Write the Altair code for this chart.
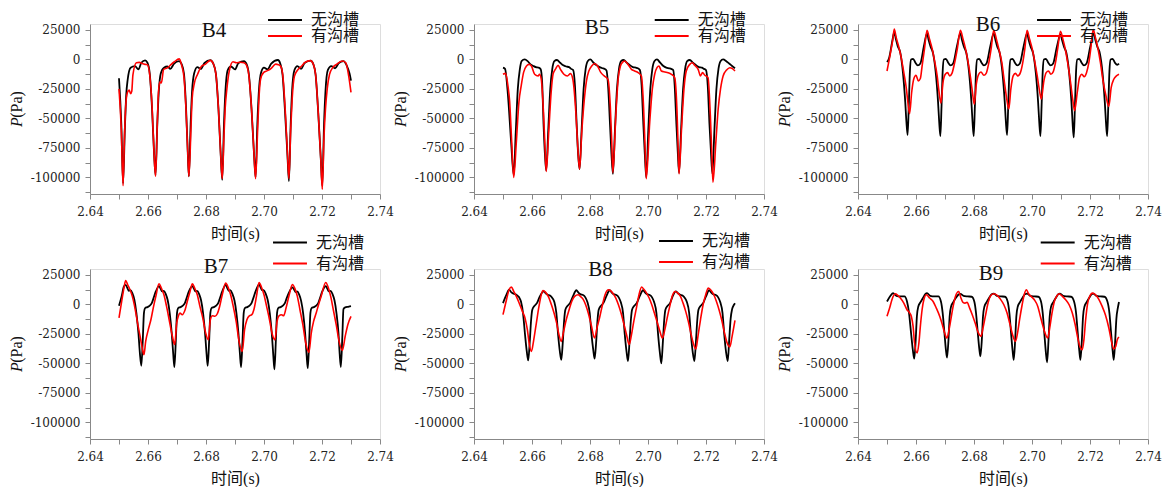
import altair as alt
import pandas as pd

SERIES = ["无沟槽", "有沟槽"]
COLORS = ["#000000", "#ff0000"]
X_TICKS = [2.64, 2.65, 2.66, 2.67, 2.68, 2.69, 2.70, 2.71, 2.72, 2.73, 2.74]
Y_TICKS = [-112500, -100000, -87500, -75000, -62500, -50000, -37500, -25000, -12500, 0, 12500, 25000]

B4_NO = [(2.6500,-16000),(2.6508,-55000),(2.6514,-105000),(2.6520,-60000),(2.6525,-30000),(2.6530,-17000),(2.6540,-7000),(2.6555,-5600),(2.6567,-8400),(2.6577,-2800),(2.6590,-800),(2.6598,-2800),(2.6606,-12000),(2.6614,-42000),(2.6621,-80000),(2.6626,-98000),
(2.6632,-55000),(2.6637,-28000),(2.6644,-12000),(2.6655,-7000),(2.6667,-6000),(2.6677,-8000),(2.6690,-3500),(2.6707,-1400),(2.6716,-4000),(2.6724,-12000),(2.6731,-40000),(2.6737,-78000),(2.6741,-99000),
(2.6747,-55000),(2.6752,-27000),(2.6759,-12000),(2.6770,-6500),(2.6782,-8000),(2.6795,-3000),(2.6815,-600),(2.6825,-3500),(2.6834,-12000),(2.6843,-42000),(2.6851,-82000),(2.6856,-102000),
(2.6862,-55000),(2.6867,-27000),(2.6875,-9000),(2.6886,-6000),(2.6900,-8500),(2.6912,-3000),(2.6931,-1400),(2.6940,-4000),(2.6948,-13000),(2.6957,-42000),(2.6966,-82000),(2.6971,-100000),
(2.6977,-55000),(2.6982,-28000),(2.6990,-11000),(2.7000,-7000),(2.7012,-8500),(2.7025,-3500),(2.7048,-500),(2.7056,-3500),(2.7064,-13000),(2.7072,-42000),(2.7081,-82000),(2.7086,-103000),
(2.7092,-55000),(2.7097,-26000),(2.7105,-9000),(2.7115,-5600),(2.7128,-8000),(2.7140,-3000),(2.7161,-1000),(2.7170,-4000),(2.7178,-13000),(2.7187,-45000),(2.7196,-85000),(2.7201,-107000),
(2.7207,-55000),(2.7212,-27000),(2.7220,-9000),(2.7232,-5600),(2.7245,-7500),(2.7258,-3000),(2.7274,-1400),(2.7285,-5000),(2.7295,-12000),(2.7300,-18000)]

B4_YES = [(2.6500,-25000),(2.6508,-60000),(2.6514,-107000),(2.6519,-65000),(2.6523,-40000),(2.6529,-28000),(2.6535,-26000),(2.6540,-29000),(2.6544,-27000),(2.6548,-13000),(2.6560,-2800),(2.6570,-2500),(2.6580,-3500),(2.6590,-4200),(2.6598,-4500),(2.6606,-13000),(2.6614,-40000),(2.6621,-80000),(2.6626,-99000),
(2.6632,-55000),(2.6636,-28000),(2.6641,-19000),(2.6646,-20000),(2.6654,-8400),(2.6668,-7000),(2.6680,-4200),(2.6690,-2200),(2.6708,500),(2.6716,-5000),(2.6724,-15000),(2.6731,-42000),(2.6737,-78000),(2.6741,-99000),
(2.6748,-60000),(2.6752,-34000),(2.6760,-20000),(2.6771,-12600),(2.6785,-5600),(2.6797,-4200),(2.6815,-800),(2.6825,-3500),(2.6834,-12000),(2.6843,-42000),(2.6851,-82000),(2.6856,-101000),
(2.6862,-65000),(2.6866,-42000),(2.6872,-25000),(2.6880,-10000),(2.6893,-2000),(2.6905,-2800),(2.6918,-2400),(2.6931,-2800),(2.6940,-5000),(2.6948,-14000),(2.6957,-42000),(2.6966,-82000),(2.6971,-101000),
(2.6978,-60000),(2.6982,-36000),(2.6988,-17000),(2.6999,-11000),(2.7012,-9500),(2.7025,-7500),(2.7040,-4000),(2.7050,-4500),(2.7058,-6000),(2.7065,-14000),(2.7073,-42000),(2.7081,-80000),(2.7086,-101000),
(2.7092,-60000),(2.7097,-34000),(2.7105,-14000),(2.7118,-8400),(2.7130,-5600),(2.7140,-2800),(2.7160,-1000),(2.7170,-4000),(2.7178,-13000),(2.7187,-45000),(2.7196,-85000),(2.7201,-110000),
(2.7207,-65000),(2.7212,-42000),(2.7218,-25000),(2.7226,-12600),(2.7237,-7000),(2.7250,-4200),(2.7270,-1400),(2.7282,-2800),(2.7292,-14000),(2.7300,-28000)]

B5_NO = [(2.6500,-7000),(2.6507,-8000),(2.6517,-30000),(2.6528,-70000),(2.6537,-98000),
(2.6544,-61600),(2.6551,-25200),(2.6558,-8400),(2.6564,-1400),(2.6575,0),(2.6585,-1500),(2.6595,-4200),(2.6605,-5600),(2.6613,-6500),(2.6623,-7000),(2.6630,-8400),(2.6635,-19600),(2.6640,-56000),(2.6645,-82000),(2.6649,-94000),
(2.6656,-60000),(2.6663,-25000),(2.6670,-8000),(2.6677,-1500),(2.6686,-500),(2.6697,-2800),(2.6708,-5000),(2.6718,-6000),(2.6728,-6500),(2.6735,-8000),(2.6742,-9000),(2.6748,-22000),(2.6754,-55000),(2.6759,-80000),(2.6764,-93000),
(2.6771,-60000),(2.6778,-25000),(2.6785,-8000),(2.6792,-1500),(2.6801,0),(2.6812,-2800),(2.6823,-5000),(2.6833,-6500),(2.6843,-7500),(2.6850,-8000),(2.6857,-9500),(2.6863,-25000),(2.6869,-55000),(2.6874,-80000),(2.6879,-97000),
(2.6886,-60000),(2.6893,-25000),(2.6900,-8000),(2.6907,-1500),(2.6916,-500),(2.6927,-2800),(2.6938,-5000),(2.6948,-6500),(2.6958,-7000),(2.6965,-7500),(2.6972,-9000),(2.6978,-22000),(2.6984,-55000),(2.6989,-80000),(2.6994,-100000),
(2.7001,-60000),(2.7008,-25000),(2.7015,-8000),(2.7022,-1500),(2.7031,0),(2.7042,-2800),(2.7053,-5600),(2.7063,-7000),(2.7073,-7500),(2.7080,-8000),(2.7087,-9000),(2.7092,-22000),(2.7098,-55000),(2.7103,-80000),(2.7107,-96000),
(2.7114,-60000),(2.7121,-25000),(2.7128,-8000),(2.7135,-1500),(2.7144,-500),(2.7155,-2800),(2.7166,-5000),(2.7176,-6500),(2.7186,-7000),(2.7193,-8000),(2.7200,-9000),(2.7206,-22000),(2.7212,-55000),(2.7217,-78000),(2.7222,-97000),
(2.7229,-60000),(2.7236,-25000),(2.7243,-8000),(2.7250,-1500),(2.7259,0),(2.7270,-1500),(2.7280,-3500),(2.7290,-5600),(2.7300,-7500)]

B5_YES = [(2.6500,-12600),(2.6509,-11800),(2.6517,-22400),(2.6523,-36000),(2.6530,-70000),(2.6537,-100000),
(2.6546,-70000),(2.6555,-36000),(2.6563,-22000),(2.6571,-11000),(2.6581,-5600),(2.6590,-4200),(2.6598,-5600),(2.6609,-12600),(2.6621,-14000),(2.6626,-12600),(2.6632,-17000),(2.6640,-47000),(2.6645,-75000),(2.6649,-95000),
(2.6658,-60000),(2.6666,-28000),(2.6673,-12000),(2.6682,-7800),(2.6690,-5000),(2.6698,-8400),(2.6710,-12600),(2.6722,-14000),(2.6733,-12000),(2.6741,-17000),(2.6752,-48000),(2.6758,-75000),(2.6764,-93000),
(2.6772,-60000),(2.6780,-35000),(2.6788,-18000),(2.6796,-9800),(2.6806,-5600),(2.6816,-3400),(2.6826,-5600),(2.6837,-11000),(2.6849,-14000),(2.6862,-17000),(2.6870,-40000),(2.6875,-70000),(2.6879,-96000),
(2.6889,-47600),(2.6897,-16800),(2.6905,-5600),(2.6912,-2500),(2.6920,-1400),(2.6931,-4200),(2.6943,-8400),(2.6954,-9800),(2.6966,-11200),(2.6977,-14000),(2.6985,-42000),(2.6990,-75000),(2.6994,-101000),
(2.7006,-53000),(2.7015,-25000),(2.7023,-12600),(2.7031,-7000),(2.7038,-5600),(2.7046,-9800),(2.7058,-10600),(2.7069,-11200),(2.7081,-12600),(2.7092,-15400),(2.7100,-44000),(2.7104,-75000),(2.7107,-97000),
(2.7116,-57000),(2.7124,-25200),(2.7132,-9800),(2.7144,-4200),(2.7153,-2800),(2.7161,-5000),(2.7173,-8400),(2.7181,-14000),(2.7188,-11200),(2.7196,-13400),(2.7207,-15400),(2.7215,-47600),(2.7220,-80000),(2.7224,-104000),
(2.7234,-70000),(2.7242,-42000),(2.7250,-25200),(2.7259,-14000),(2.7271,-9000),(2.7282,-7000),(2.7291,-7800),(2.7300,-9800)]

B6_NO = [(2.6500,-2200),(2.6507,1000),(2.6515,11000),(2.6520,18000),(2.6525,23000),(2.6531,16800),(2.6537,11200),(2.6546,5600),(2.6555,-11200),(2.6563,-36400),(2.6567,-53000),(2.6571,-64000),(2.6575,-40000),(2.6579,-10000),(2.6583,0),(2.6590,500),(2.6598,-2800),(2.6606,-5000),(2.6615,-3400),(2.6627,11000),(2.6638,22000),
(2.6644,16000),(2.6650,11000),(2.6659,5000),(2.6668,-11000),(2.6676,-36000),(2.6680,-53000),(2.6684,-65000),(2.6688,-40000),(2.6692,-10000),(2.6696,0),(2.6703,500),(2.6711,-2800),(2.6719,-5000),(2.6728,-3400),(2.6741,11000),(2.6753,22000),
(2.6759,16000),(2.6765,11000),(2.6774,5000),(2.6783,-11000),(2.6791,-36000),(2.6795,-53000),(2.6799,-65000),(2.6803,-40000),(2.6807,-10000),(2.6811,0),(2.6818,500),(2.6826,-2800),(2.6834,-5000),(2.6843,-3400),(2.6856,11000),(2.6868,22000),
(2.6874,16500),(2.6880,11000),(2.6889,5000),(2.6898,-11000),(2.6906,-36000),(2.6910,-53000),(2.6914,-64000),(2.6918,-40000),(2.6922,-10000),(2.6926,0),(2.6933,500),(2.6941,-2800),(2.6949,-5000),(2.6958,-3400),(2.6971,11000),(2.6983,22000),
(2.6989,16000),(2.6995,11000),(2.7004,5000),(2.7013,-11000),(2.7021,-36000),(2.7025,-53000),(2.7029,-65000),(2.7033,-40000),(2.7037,-10000),(2.7041,0),(2.7048,500),(2.7056,-2800),(2.7064,-5000),(2.7073,-3400),(2.7086,11000),(2.7098,21000),
(2.7104,16000),(2.7110,11000),(2.7119,5000),(2.7128,-11000),(2.7136,-36000),(2.7140,-54000),(2.7144,-66000),(2.7148,-40000),(2.7152,-10000),(2.7156,0),(2.7163,500),(2.7171,-2800),(2.7179,-5000),(2.7188,-3400),(2.7201,11000),(2.7213,22000),
(2.7219,16000),(2.7225,11000),(2.7234,5000),(2.7243,-11000),(2.7251,-36000),(2.7255,-53000),(2.7259,-65000),(2.7263,-40000),(2.7267,-10000),(2.7271,0),(2.7278,500),(2.7286,-2800),(2.7294,-4500),(2.7300,-3500)]

B6_YES = [(2.6500,-9800),(2.6512,5600),(2.6520,16800),(2.6525,25800),(2.6532,18200),(2.6540,11200),(2.6548,2800),(2.6558,-11200),(2.6567,-25200),(2.6572,-36400),(2.6578,-46000),(2.6585,-28000),(2.6592,-16800),(2.6600,-13400),(2.6608,-18200),(2.6615,-16200),(2.6621,-5600),(2.6629,8400),(2.6638,24600),
(2.6647,16800),(2.6655,9800),(2.6663,0),(2.6673,-14000),(2.6679,-26600),(2.6686,-37000),(2.6693,-19600),(2.6701,-12600),(2.6709,-11200),(2.6716,-14000),(2.6724,-11800),(2.6732,-4200),(2.6742,8400),(2.6753,24600),
(2.6762,17400),(2.6770,9800),(2.6778,0),(2.6788,-15400),(2.6794,-26600),(2.6801,-38000),(2.6808,-21000),(2.6816,-12600),(2.6824,-10600),(2.6834,-13400),(2.6842,-11800),(2.6850,-4200),(2.6859,9000),(2.6868,24600),
(2.6877,17400),(2.6886,8400),(2.6896,-2800),(2.6905,-19600),(2.6913,-33600),(2.6920,-42000),(2.6927,-25200),(2.6935,-14000),(2.6943,-11800),(2.6951,-14000),(2.6960,-11200),(2.6967,-4200),(2.6975,8400),(2.6983,24600),
(2.6992,16800),(2.7000,9800),(2.7008,0),(2.7018,-14000),(2.7026,-26600),(2.7032,-33600),(2.7041,-18200),(2.7049,-11200),(2.7057,-9800),(2.7065,-12600),(2.7073,-10600),(2.7081,-2800),(2.7089,9800),(2.7098,23800),
(2.7107,16800),(2.7115,8400),(2.7123,-2800),(2.7133,-19600),(2.7141,-35000),(2.7147,-43400),(2.7156,-28000),(2.7164,-15400),(2.7172,-12600),(2.7180,-14600),(2.7188,-11200),(2.7196,-2800),(2.7203,9800),(2.7211,25200),
(2.7219,18200),(2.7227,9800),(2.7236,-2800),(2.7245,-18200),(2.7255,-30800),(2.7265,-39800),(2.7273,-23800),(2.7282,-16800),(2.7291,-14000),(2.7300,-12600)]

B7_NO = [(2.6500,-1100),(2.6509,6800),(2.6517,15200),(2.6523,16600),(2.6529,13800),(2.6534,11500),(2.6539,12000),(2.6546,9600),(2.6553,4000),(2.6560,-7300),(2.6567,-24300),(2.6572,-41200),(2.6577,-52000),(2.6582,-30000),(2.6586,-7300),(2.6590,-3100),(2.6598,-2300),(2.6606,-1100),(2.6613,1100),(2.6618,4500),(2.6627,11000),(2.6638,15500),
(2.6644,13000),(2.6649,11000),(2.6654,11500),(2.6661,9000),(2.6668,3500),(2.6675,-7500),(2.6682,-25000),(2.6687,-42000),(2.6691,-53000),(2.6696,-30000),(2.6700,-7300),(2.6704,-3100),(2.6712,-2300),(2.6720,-1100),(2.6727,1100),(2.6732,4500),(2.6741,11000),(2.6753,15500),
(2.6759,13000),(2.6764,11000),(2.6769,11500),(2.6776,9000),(2.6783,3500),(2.6790,-7500),(2.6797,-25000),(2.6802,-42000),(2.6806,-52000),(2.6811,-30000),(2.6815,-7300),(2.6819,-3100),(2.6827,-2300),(2.6835,-1100),(2.6842,1100),(2.6847,4500),(2.6856,11000),(2.6868,16500),
(2.6874,13500),(2.6879,11500),(2.6884,12000),(2.6891,9000),(2.6898,3500),(2.6905,-7500),(2.6912,-25000),(2.6917,-42000),(2.6921,-53000),(2.6926,-30000),(2.6930,-7300),(2.6934,-3100),(2.6942,-2300),(2.6950,-1100),(2.6957,1100),(2.6962,4500),(2.6971,11000),(2.6983,17000),
(2.6989,14000),(2.6994,12000),(2.6999,12000),(2.7006,9000),(2.7013,3500),(2.7020,-7500),(2.7027,-25000),(2.7032,-43000),(2.7036,-55000),(2.7041,-30000),(2.7045,-7300),(2.7049,-3100),(2.7057,-2300),(2.7065,-1100),(2.7072,1100),(2.7077,4500),(2.7086,10000),(2.7098,14500),
(2.7104,12500),(2.7109,10500),(2.7114,11000),(2.7121,8500),(2.7128,3000),(2.7135,-7500),(2.7142,-25000),(2.7147,-43000),(2.7151,-54000),(2.7156,-30000),(2.7160,-7300),(2.7164,-3100),(2.7172,-2300),(2.7180,-1100),(2.7187,1100),(2.7192,4500),(2.7201,11000),(2.7213,15500),
(2.7219,13000),(2.7224,11000),(2.7229,11500),(2.7236,9000),(2.7243,3500),(2.7250,-7500),(2.7257,-25000),(2.7261,-42000),(2.7265,-53000),(2.7270,-28000),(2.7274,-4000),(2.7280,-2500),(2.7290,-2000),(2.7300,-1500)]

B7_YES = [(2.6500,-11500),(2.6512,6800),(2.6518,15200),(2.6523,20300),(2.6530,16600),(2.6538,12400),(2.6546,6800),(2.6555,-3100),(2.6564,-15800),(2.6575,-30000),(2.6581,-38000),(2.6586,-42600),(2.6592,-31300),(2.6601,-21400),(2.6610,-13000),(2.6618,-3100),(2.6627,6800),(2.6638,17500),
(2.6646,13800),(2.6655,8200),(2.6664,-1700),(2.6673,-13000),(2.6684,-27000),(2.6692,-34000),(2.6699,-15800),(2.6705,-9600),(2.6710,-7300),(2.6718,-8700),(2.6728,-4500),(2.6737,4000),(2.6745,11000),(2.6753,17500),
(2.6761,13800),(2.6770,8200),(2.6779,-1700),(2.6789,-11600),(2.6799,-24300),(2.6808,-30000),(2.6815,-13000),(2.6822,-9600),(2.6831,-10000),(2.6839,-7900),(2.6847,-1700),(2.6856,8200),(2.6868,18000),
(2.6876,14700),(2.6885,8200),(2.6894,-1700),(2.6904,-14400),(2.6914,-31300),(2.6925,-39800),(2.6933,-21400),(2.6941,-13000),(2.6950,-9600),(2.6958,-8700),(2.6965,-4500),(2.6974,6800),(2.6983,18600),
(2.6991,14700),(2.7000,8200),(2.7009,-1700),(2.7019,-13000),(2.7029,-25700),(2.7038,-30000),(2.7045,-14400),(2.7052,-9600),(2.7060,-8700),(2.7068,-9600),(2.7076,-3100),(2.7087,8200),(2.7098,16900),
(2.7106,13800),(2.7115,6800),(2.7124,-4500),(2.7134,-17200),(2.7144,-32700),(2.7155,-40600),(2.7163,-24300),(2.7171,-14400),(2.7180,-7300),(2.7188,-300),(2.7197,6800),(2.7213,18600),
(2.7221,14700),(2.7230,6800),(2.7239,-4500),(2.7249,-17200),(2.7259,-31300),(2.7270,-39000),(2.7280,-27000),(2.7289,-17200),(2.7300,-10200)]

B8_NO = [(2.6500,1100),(2.6512,8200),(2.6521,12500),(2.6529,10200),(2.6537,9000),(2.6546,8200),(2.6555,6200),(2.6562,2500),(2.6569,-7300),(2.6576,-25700),(2.6582,-39800),(2.6587,-47400),(2.6592,-32700),(2.6597,-13000),(2.6601,-4500),(2.6609,-1100),(2.6617,1100),(2.6627,6800),(2.6640,11000),
(2.6647,9500),(2.6654,8200),(2.6662,7500),(2.6670,5500),(2.6677,2000),(2.6684,-7300),(2.6690,-25700),(2.6696,-39800),(2.6701,-47000),(2.6706,-32700),(2.6711,-13000),(2.6715,-4500),(2.6723,-1100),(2.6731,1100),(2.6741,6800),(2.6753,12000),
(2.6760,10000),(2.6768,8500),(2.6776,8000),(2.6784,6000),(2.6791,2000),(2.6799,-7300),(2.6805,-25000),(2.6811,-38000),(2.6816,-46000),(2.6821,-32700),(2.6826,-13000),(2.6830,-4500),(2.6838,-1100),(2.6846,1100),(2.6856,6800),(2.6868,12000),
(2.6875,10000),(2.6883,8500),(2.6891,8000),(2.6899,6000),(2.6906,2000),(2.6914,-7300),(2.6920,-25700),(2.6926,-40000),(2.6931,-48000),(2.6936,-32700),(2.6941,-13000),(2.6945,-4500),(2.6953,-1100),(2.6961,1100),(2.6971,6800),(2.6983,12000),
(2.6990,10000),(2.6998,8500),(2.7006,8000),(2.7014,6000),(2.7021,2000),(2.7029,-7300),(2.7035,-26000),(2.7041,-41000),(2.7046,-50000),(2.7051,-33000),(2.7056,-13000),(2.7060,-4500),(2.7068,-1100),(2.7076,1100),(2.7085,6800),(2.7096,11000),
(2.7103,9500),(2.7111,8200),(2.7119,7500),(2.7127,5500),(2.7134,2000),(2.7142,-7300),(2.7148,-25700),(2.7154,-40000),(2.7160,-48000),(2.7165,-32700),(2.7170,-13000),(2.7174,-4500),(2.7182,-1100),(2.7190,1100),(2.7200,6800),(2.7211,12000),
(2.7218,10000),(2.7226,8500),(2.7234,8000),(2.7242,6000),(2.7249,2000),(2.7257,-7300),(2.7263,-25700),(2.7269,-40000),(2.7275,-48000),(2.7280,-30000),(2.7285,-12000),(2.7290,-4000),(2.7296,-500),(2.7300,1000)]

B8_YES = [(2.6500,-8700),(2.6512,4000),(2.6521,12400),(2.6529,14700),(2.6537,11000),(2.6546,6800),(2.6558,-300),(2.6567,-5900),(2.6576,-11600),(2.6584,-21400),(2.6591,-34000),(2.6598,-39800),(2.6606,-30000),(2.6615,-15800),(2.6624,-1700),(2.6632,8200),(2.6638,11800),
(2.6647,10200),(2.6656,6800),(2.6667,-300),(2.6676,-7300),(2.6685,-15800),(2.6693,-25700),(2.6701,-31300),(2.6709,-22800),(2.6718,-13000),(2.6728,-4500),(2.6737,2500),(2.6747,6800),(2.6759,8200),(2.6767,6800),
(2.6776,4500),(2.6785,-300),(2.6794,-7300),(2.6804,-17200),(2.6816,-28500),(2.6824,-20000),(2.6834,-10200),(2.6843,-300),(2.6852,8200),(2.6864,12400),
(2.6870,11800),(2.6880,9000),(2.6889,5400),(2.6898,-300),(2.6907,-7300),(2.6916,-15800),(2.6926,-25700),(2.6935,-34000),(2.6943,-25700),(2.6951,-14400),(2.6960,-3100),(2.6969,8200),(2.6978,14700),
(2.6985,13000),(2.6995,9600),(2.7004,5400),(2.7013,-300),(2.7022,-7300),(2.7031,-14400),(2.7041,-22800),(2.7050,-28500),(2.7058,-21400),(2.7066,-11600),(2.7075,-1700),(2.7084,7300),(2.7093,11000),
(2.7103,9600),(2.7112,6800),(2.7121,1100),(2.7130,-5900),(2.7139,-14400),(2.7149,-25700),(2.7156,-32700),(2.7165,-37800),(2.7173,-25700),(2.7181,-13000),(2.7190,-300),(2.7199,8200),(2.7208,13800),
(2.7218,11800),(2.7227,8200),(2.7236,2500),(2.7245,-4500),(2.7254,-13000),(2.7264,-24300),(2.7273,-32700),(2.7282,-36000),(2.7290,-27000),(2.7300,-13500)]

B9_NO = [(2.6500,2500),(2.6512,7300),(2.6521,9600),(2.6532,7300),(2.6546,6800),(2.6560,6800),(2.6569,2500),(2.6576,-7300),(2.6583,-24300),(2.6589,-38400),(2.6594,-46000),(2.6599,-30000),(2.6603,-10200),(2.6608,-1700),(2.6615,1700),(2.6624,5400),(2.6632,8700),(2.6638,9600),
(2.6649,7300),(2.6663,6800),(2.6677,6800),(2.6686,2500),(2.6692,-7300),(2.6698,-24000),(2.6703,-38000),(2.6707,-45000),(2.6712,-30000),(2.6716,-10200),(2.6721,-1700),(2.6728,1700),(2.6737,5400),(2.6745,8000),(2.6753,9000),
(2.6764,7300),(2.6778,6800),(2.6792,6500),(2.6801,2500),(2.6807,-7300),(2.6813,-24000),(2.6818,-37000),(2.6822,-44000),(2.6827,-30000),(2.6831,-10200),(2.6836,-1700),(2.6843,1700),(2.6852,5400),(2.6860,8500),(2.6868,9200),
(2.6879,7300),(2.6893,6800),(2.6907,6500),(2.6916,2500),(2.6922,-7300),(2.6928,-25000),(2.6933,-39000),(2.6937,-47000),(2.6942,-30000),(2.6946,-10200),(2.6951,-1700),(2.6958,1700),(2.6967,5400),(2.6975,8500),(2.6983,9200),
(2.6994,7300),(2.7008,6800),(2.7022,6500),(2.7031,2500),(2.7037,-7300),(2.7043,-26000),(2.7048,-41000),(2.7052,-49000),(2.7057,-30000),(2.7061,-10200),(2.7066,-1700),(2.7073,1700),(2.7082,5400),(2.7090,8500),(2.7096,9200),
(2.7107,7300),(2.7121,6800),(2.7135,6500),(2.7145,2500),(2.7152,-7300),(2.7158,-25000),(2.7163,-39000),(2.7167,-47000),(2.7172,-30000),(2.7176,-10200),(2.7181,-1700),(2.7188,1700),(2.7197,5400),(2.7205,8500),(2.7211,9200),
(2.7222,7300),(2.7236,6800),(2.7250,6500),(2.7260,2500),(2.7267,-7300),(2.7273,-25000),(2.7278,-39000),(2.7282,-47000),(2.7287,-30000),(2.7291,-12000),(2.7296,-3000),(2.7300,2000)]

B9_YES = [(2.6500,-10000),(2.6509,-3100),(2.6517,4000),(2.6523,7600),(2.6529,9000),(2.6537,7600),(2.6546,5400),(2.6558,1100),(2.6569,-4500),(2.6577,-6800),(2.6584,-10200),(2.6590,-18600),(2.6595,-32700),(2.6604,-41200),(2.6610,-32700),(2.6615,-18600),(2.6621,-4500),(2.6627,4000),(2.6636,8200),
(2.6647,5400),(2.6659,2500),(2.6670,-3100),(2.6682,-10200),(2.6691,-17200),(2.6699,-24300),(2.6707,-28500),(2.6714,-21400),(2.6721,-11600),(2.6728,-1700),(2.6736,6800),(2.6747,11000),(2.6755,5400),(2.6762,1700),(2.6769,1100),(2.6776,1700),
(2.6785,-3100),(2.6794,-8700),(2.6804,-15800),(2.6813,-22800),(2.6824,-27000),(2.6831,-20000),(2.6839,-10200),(2.6847,-300),(2.6856,6800),(2.6868,9000),
(2.6880,7600),(2.6891,4500),(2.6903,-300),(2.6914,-7300),(2.6923,-15800),(2.6933,-25700),(2.6943,-31300),(2.6950,-24300),(2.6958,-11600),(2.6966,-300),(2.6973,8200),(2.6981,12400),
(2.6988,9000),(2.6997,6800),(2.7008,4000),(2.7020,-1700),(2.7029,-10200),(2.7038,-18600),(2.7045,-24300),(2.7054,-28500),(2.7061,-20000),(2.7069,-7300),(2.7077,2500),(2.7087,7600),(2.7093,9000),
(2.7105,6800),(2.7116,4000),(2.7128,-300),(2.7139,-7300),(2.7149,-17200),(2.7158,-28500),(2.7165,-35500),(2.7173,-38400),(2.7179,-30000),(2.7185,-13000),(2.7192,1100),(2.7202,8200),(2.7208,9600),
(2.7219,8200),(2.7230,4500),(2.7242,-1700),(2.7253,-8700),(2.7265,-20000),(2.7274,-31300),(2.7282,-37800),(2.7289,-35500),(2.7294,-30000),(2.7300,-27600)]

PANELS = [("B4", B4_NO, B4_YES), ("B5", B5_NO, B5_YES), ("B6", B6_NO, B6_YES),
          ("B7", B7_NO, B7_YES), ("B8", B8_NO, B8_YES), ("B9", B9_NO, B9_YES)]

# layout (pixels relative to each plot area)
TITLE_POS = [(124, 12.5), (123, 10), (130, 7), (126, 4), (126.5, 7), (133, 10.5)]
LEGEND_POS = [(187, -12, 0), (189.7, -12, 0), (188, -12, -1), (192, -34.5, 5), (194, -36, 5), (191.7, -34.5, 5)]

W, H = 290, 170
SERIF = "Liberation Serif"
NUMFONT = "DejaVu Serif"
CJK = "Liberation Serif, Noto Sans CJK SC"

x_axis = alt.Axis(values=X_TICKS, title="时间(s)", grid=False,
                  labelExpr="round(datum.value*100) % 2 == 0 ? format(datum.value, '.2f') : ''",
                  labelFont=NUMFONT, labelFontSize=12, labelColor="#222", labelPadding=7,
                  labelOverlap=False, labelFlush=False,
                  tickSize=5, tickColor="#888", domainColor="#888",
                  titleFont=CJK, titleFontSize=16, titleFontWeight="normal", titleColor="#111",
                  titlePadding=8)
y_axis = alt.Axis(values=Y_TICKS, title=None, grid=False,
                  labelExpr="datum.value % 25000 == 0 ? (datum.value < 0 ? '-' + format(-datum.value, 'd') : format(datum.value, 'd')) : ''",
                  labelFont=NUMFONT, labelFontSize=12, labelColor="#222", labelPadding=5,
                  labelOverlap=False, labelFlush=False,
                  tickSize=5, tickColor="#888", domainColor="#888")


def make_panel(i, name, no, yes):
    df_no = pd.DataFrame(no, columns=["t", "p"])
    df_no["series"] = SERIES[0]
    df_yes = pd.DataFrame(yes, columns=["t", "p"])
    df_yes["series"] = SERIES[1]
    lx, ly, rp = LEGEND_POS[i]
    color = alt.Color("series:N",
                      scale=alt.Scale(domain=SERIES, range=COLORS),
                      legend=alt.Legend(orient="none", legendX=lx, legendY=ly, title=None,
                                        symbolType="M-3,0H3", symbolSize=128, symbolStrokeWidth=2,
                                        labelFont="Noto Sans CJK SC", labelFontSize=16,
                                        labelColor="#111", labelOffset=18, rowPadding=rp, padding=0))
    x = alt.X("t:Q", scale=alt.Scale(domain=[2.64, 2.74], nice=False, zero=False), axis=x_axis)
    y = alt.Y("p:Q", scale=alt.Scale(domain=[-114000, 30000], nice=False, zero=False), axis=y_axis)
    l_no = alt.Chart(df_no).mark_line(strokeWidth=1.8, interpolate="monotone").encode(x=x, y=y, color=color)
    l_yes = alt.Chart(df_yes).mark_line(strokeWidth=1.6, interpolate="monotone").encode(x=x, y=y, color=color)
    tx, ty = TITLE_POS[i]
    title = alt.Chart(pd.DataFrame({"s": [name]})).mark_text(
        font=SERIF, fontSize=21, color="#111", align="center", baseline="alphabetic"
    ).encode(text="s:N", x=alt.value(tx), y=alt.value(ty))
    yt_p = alt.Chart(pd.DataFrame({"s": ["P"]})).mark_text(
        font=SERIF, fontSize=16, fontStyle="italic", angle=270, align="center", baseline="middle", color="#111"
    ).encode(text="s:N", x=alt.value(-73), y=alt.value(98))
    yt_pa = alt.Chart(pd.DataFrame({"s": ["(Pa)"]})).mark_text(
        font=SERIF, fontSize=16, angle=270, align="center", baseline="middle", color="#111"
    ).encode(text="s:N", x=alt.value(-73), y=alt.value(80.5))
    return alt.layer(l_no, l_yes, title, yt_p, yt_pa).properties(width=W, height=H)


charts = [make_panel(i, *p) for i, p in enumerate(PANELS)]
chart = alt.concat(*charts, columns=3, spacing={"row": 75, "column": 94}, bounds="flush").resolve_scale(
    color="independent"
).properties(padding={"top": 3, "left": 0, "right": 0, "bottom": 0}).configure_view(stroke=None).configure(background="white")

chart.save("out.html", embed_options={"renderer": "svg", "actions": False})
